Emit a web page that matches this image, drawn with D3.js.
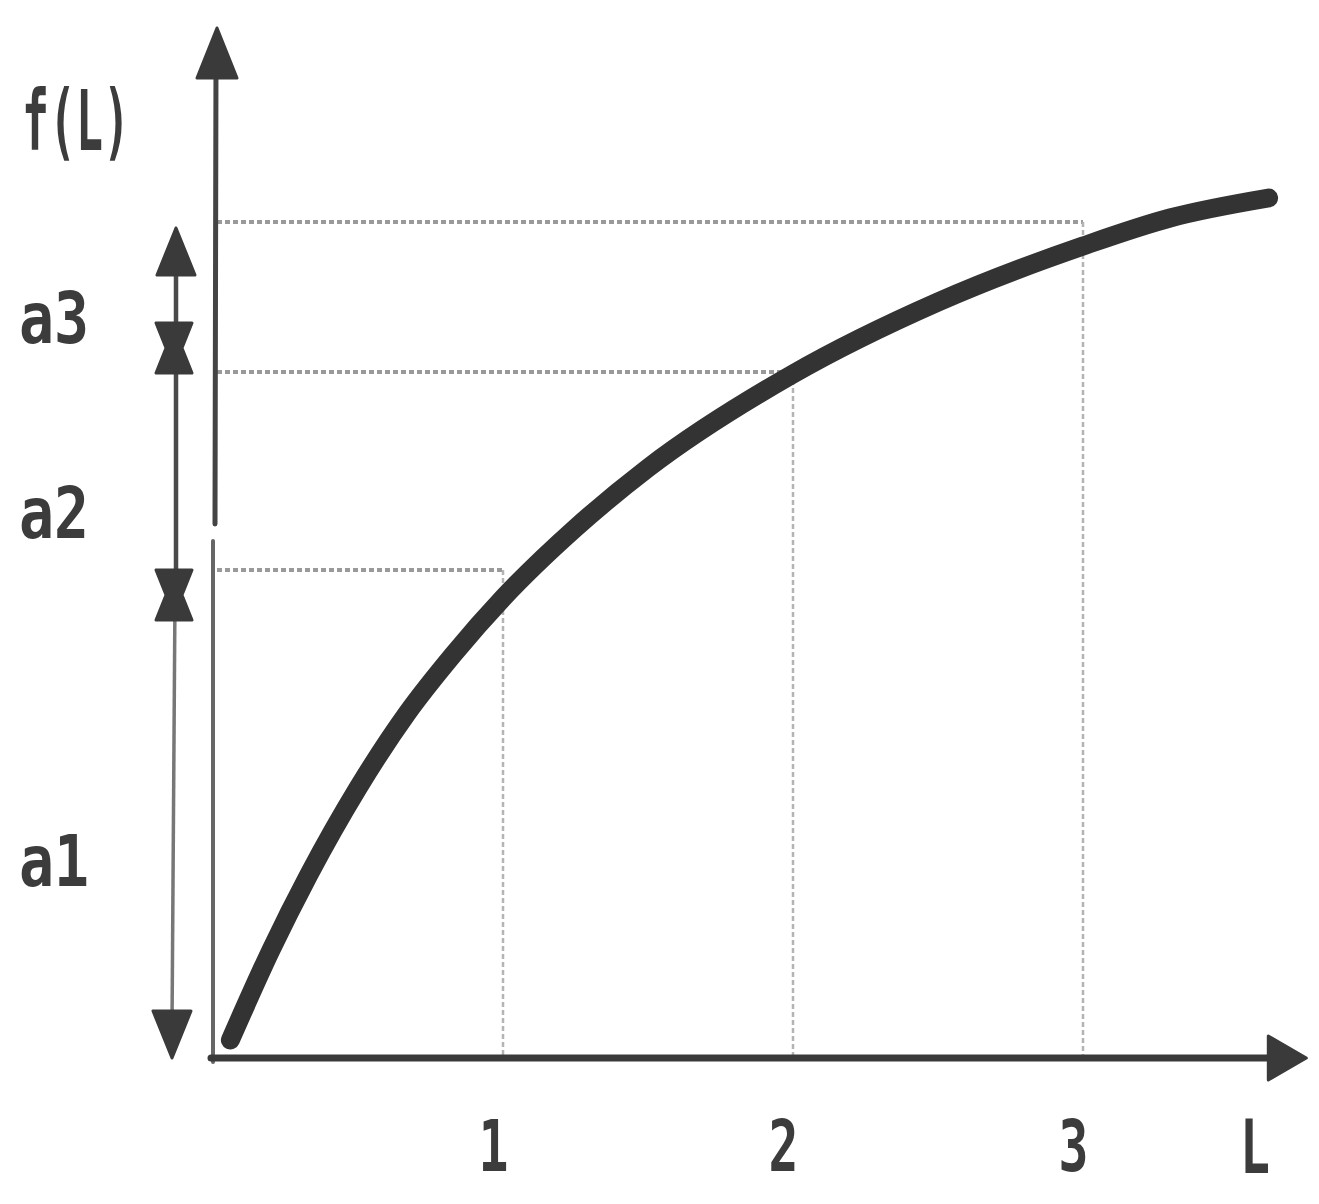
<!DOCTYPE html>
<html>
<head>
<meta charset="utf-8">
<script src="https://cdn.jsdelivr.net/npm/d3@7"></script>
<style>
  body { margin: 0; background: #fff; }
  svg { display: block; }
  .lbl { font-family: "DejaVu Sans Mono", monospace; font-weight: bold; fill: #3c3c3c; }
</style>
</head>
<body>
<svg width="1319" height="1204"></svg>
<script>
// curve (L, f(L))
const curveL = [0.06, 0.20, 0.33, 0.50, 0.67, 0.83, 1.00, 1.25, 1.50, 2.00, 2.50, 3.00, 3.30, 3.64];
const curveF = [0.18, 1.08, 1.83, 2.70, 3.45, 4.04, 4.60, 5.30, 5.90, 6.84, 7.56, 8.12, 8.40, 8.60];

// dotted guides at L = 1, 2, 3
const guideL = [1, 2, 3];
const guideF = [4.88, 6.86, 8.36];

// bracket on the left: segment bounds and names
const bounds = [0, 4.63, 7.10, 8.30];
const segNames = ["a1", "a2", "a3"];
const segLabelF = [1.72, 5.20, 7.15];

const tickLabels = ["1", "2", "3"];
const axisName = "L";
const yName = "f(L)";

const svg = d3.select("svg");

const x = d3.scaleLinear().domain([0, 3.6]).range([213, 1257]);
const y = d3.scaleLinear().domain([0, 10]).range([1058, 58]);

const ink = "#3a3a3a";

// guides
const guides = svg.append("g");
guideL.forEach((l, i) => {
    guides.append("line")
        .attr("x1", x(0) + 4).attr("x2", x(l))
        .attr("y1", y(guideF[i])).attr("y2", y(guideF[i]))
        .attr("stroke", "#9a9a9a").attr("stroke-width", 4)
        .attr("stroke-dasharray", "5 3");
    guides.append("line")
        .attr("x1", x(l)).attr("x2", x(l))
        .attr("y1", y(guideF[i])).attr("y2", y(0))
        .attr("stroke", "#b4b4b4").attr("stroke-width", 2.5)
        .attr("stroke-dasharray", "5 3");
});

// y axis with a small break
const yTop = 10.3;
svg.append("line")
    .attr("x1", x(0) + 3).attr("x2", x(0) + 2)
    .attr("y1", y(yTop) + 30).attr("y2", y(5.34))
    .attr("stroke", "#444").attr("stroke-width", 5).attr("stroke-linecap", "round");
svg.append("line")
    .attr("x1", x(0)).attr("x2", x(0))
    .attr("y1", y(5.17)).attr("y2", y(0) + 4)
    .attr("stroke", "#666").attr("stroke-width", 4).attr("stroke-linecap", "round");
const yTip = y(yTop);
svg.append("path")
    .attr("d", `M${x(0) + 4},${yTip} L${x(0) + 24},${yTip + 50} L${x(0) - 16},${yTip + 50} Z`)
    .attr("fill", ink).attr("stroke", ink).attr("stroke-width", 3).attr("stroke-linejoin", "round");

// x axis
const xTipL = 3.77;
svg.append("line")
    .attr("x1", x(0) - 2).attr("x2", x(xTipL) - 30)
    .attr("y1", y(0)).attr("y2", y(0))
    .attr("stroke", ink).attr("stroke-width", 7).attr("stroke-linecap", "round");
const xTip = x(xTipL);
svg.append("path")
    .attr("d", `M${xTip},${y(0)} L${xTip - 38},${y(0) - 22} L${xTip - 38},${y(0) + 22} Z`)
    .attr("fill", ink).attr("stroke", ink).attr("stroke-width", 3).attr("stroke-linejoin", "round");

// tick labels through the axis generator
const xAxis = svg.append("g")
    .attr("transform", `translate(0,${y(0)})`)
    .call(d3.axisBottom(x).tickValues(guideL).tickFormat((d, i) => tickLabels[i]).tickSize(0).tickPadding(62));
xAxis.select(".domain").remove();
xAxis.selectAll("text")
    .attr("class", "lbl")
    .attr("dx", -10)
    .style("font-size", "72px")
    .attr("fill", "#3c3c3c")
    .attr("textLength", 30).attr("lengthAdjust", "spacingAndGlyphs");

svg.append("text").attr("class", "lbl")
    .attr("x", 1240).attr("y", 1173)
    .style("font-size", "74px")
    .attr("textLength", 30).attr("lengthAdjust", "spacingAndGlyphs")
    .text(axisName);

svg.append("text").attr("class", "lbl")
    .attr("x", 22).attr("y", 150)
    .style("font-size", "84px")
    .attr("textLength", 108).attr("lengthAdjust", "spacingAndGlyphs")
    .text(yName);

// bracket arrow on the left
const bx = x(0) - 38;
const br = svg.append("g");
br.append("line")
    .attr("x1", bx + 1).attr("x2", bx + 1)
    .attr("y1", y(bounds[3]) + 30).attr("y2", y(bounds[1]))
    .attr("stroke", "#4a4a4a").attr("stroke-width", 4.5);
br.append("line")
    .attr("x1", bx).attr("x2", bx - 3)
    .attr("y1", y(bounds[1])).attr("y2", y(bounds[0]) - 30)
    .attr("stroke", "#777").attr("stroke-width", 3.5);

const tri = (cx, cy, dir) =>
    `M${cx},${cy} L${cx - 19},${cy + dir * 47} L${cx + 19},${cy + dir * 47} Z`;
br.append("path").attr("d", tri(bx + 1, y(bounds[3]), 1))
    .attr("fill", ink).attr("stroke", ink).attr("stroke-width", 3).attr("stroke-linejoin", "round");
br.append("path").attr("d", tri(bx - 3, y(bounds[0]), -1))
    .attr("fill", ink).attr("stroke", ink).attr("stroke-width", 3).attr("stroke-linejoin", "round");

[bounds[1], bounds[2]].forEach(b => {
    const cy = y(b), cx = bx - 1;
    br.append("path")
        .attr("d", `M${cx - 18},${cy - 25} L${cx + 18},${cy - 25} L${cx + 8},${cy} L${cx + 18},${cy + 25} L${cx - 18},${cy + 25} L${cx - 8},${cy} Z`)
        .attr("fill", ink).attr("stroke", ink).attr("stroke-width", 3).attr("stroke-linejoin", "round");
});

segNames.forEach((s, i) => {
    svg.append("text").attr("class", "lbl")
        .attr("x", 19).attr("y", y(segLabelF[i]))
        .style("font-size", "72px")
        .attr("textLength", 70).attr("lengthAdjust", "spacingAndGlyphs")
        .text(s);
});

// the curve
const pts = curveL.map((l, i) => [l, curveF[i]]);
svg.append("path")
    .datum(pts)
    .attr("d", d3.line().x(d => x(d[0])).y(d => y(d[1])).curve(d3.curveMonotoneX))
    .attr("fill", "none")
    .attr("stroke", "#333")
    .attr("stroke-width", 19)
    .attr("stroke-linecap", "round")
    .attr("stroke-linejoin", "round");
</script>
</body>
</html>
